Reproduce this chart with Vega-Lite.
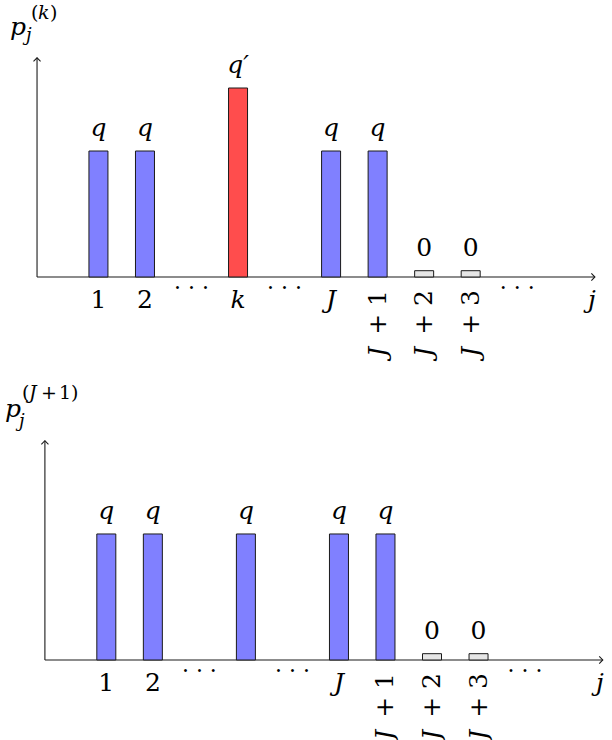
{
  "$schema": "https://vega.github.io/schema/vega-lite/v6.json",
  "padding": 0,
  "spacing": 0,
  "bounds": "flush",
  "config": {
    "view": {"stroke": null},
    "text": {"font": "DejaVu Serif", "fontSize": 25, "color": "#000000"}
  },
  "datasets": {
    "top": [
      {"j": 1, "p": 2, "kind": "q", "lab": "q", "tick": "1"},
      {"j": 2, "p": 2, "kind": "q", "lab": "q", "tick": "2"},
      {"j": 3, "gap": "· · ·"},
      {"j": 4, "p": 3, "kind": "qp", "lab": "q′", "tickVar": "k"},
      {"j": 5, "gap": "· · ·"},
      {"j": 6, "p": 2, "kind": "q", "lab": "q", "tickVar": "J"},
      {"j": 7, "p": 2, "kind": "q", "lab": "q", "rot": " + 1"},
      {"j": 8, "p": 0.1, "kind": "zero", "num": "0", "rot": " + 2"},
      {"j": 9, "p": 0.1, "kind": "zero", "num": "0", "rot": " + 3"},
      {"j": 10, "gap": "· · ·"}
    ],
    "bottom": [
      {"j": 1, "p": 2, "kind": "q", "lab": "q", "tick": "1"},
      {"j": 2, "p": 2, "kind": "q", "lab": "q", "tick": "2"},
      {"j": 3, "gap": "· · ·"},
      {"j": 4, "p": 2, "kind": "q", "lab": "q"},
      {"j": 5, "gap": "· · ·"},
      {"j": 6, "p": 2, "kind": "q", "lab": "q", "tickVar": "J"},
      {"j": 7, "p": 2, "kind": "q", "lab": "q", "rot": " + 1"},
      {"j": 8, "p": 0.1, "kind": "zero", "num": "0", "rot": " + 2"},
      {"j": 9, "p": 0.1, "kind": "zero", "num": "0", "rot": " + 3"},
      {"j": 10, "gap": "· · ·"}
    ],
    "axes": [
      {"j": -0.32, "p": 0, "j2": 11.67, "p2": 0},
      {"j": -0.32, "p": 0, "j2": -0.32, "p2": 3.48}
    ],
    "heads": [
      {"j": 11.67, "p": 0, "dir": "right"},
      {"j": -0.32, "p": 3.48, "dir": "up"}
    ]
  },
  "resolve": {"scale": {"x": "independent", "y": "independent"}},
  "vconcat": [
    {
      "width": 612,
      "height": 380,
      "encoding": {
        "x": {"field": "j", "type": "quantitative", "scale": {"domain": [-1.0085, 11.93], "nice": false, "zero": false}, "axis": null}
      },
      "layer": [
        {"data": {"name": "axes"}, "mark": {"type": "rule", "stroke": "#1a1a1a", "strokeWidth": 1.1},
          "encoding": {"y": {"field": "p", "type": "quantitative", "scale": {"domain": [-1.635, 4.397], "nice": false, "zero": false}, "axis": null}, "x2": {"field": "j2"}, "y2": {"field": "p2"}}},
        {"data": {"name": "heads"}, "mark": {"type": "point", "filled": false, "stroke": "#1a1a1a", "strokeWidth": 1.1, "opacity": 1, "size": 50},
          "encoding": {"y": {"field": "p", "type": "quantitative", "scale": {"domain": [-1.635, 4.397], "nice": false, "zero": false}, "axis": null}, "shape": {"field": "dir", "type": "nominal", "scale": {"domain": ["right", "up"], "range": ["M-1,-1Q-0.3,-0.3 0,0Q-0.3,0.3 -1,1", "M-1,1Q-0.3,0.3 0,0Q0.3,0.3 1,1"]}, "legend": null}}},
        {"data": {"name": "top"}, "transform": [{"filter": "isValid(datum.p)"}], "mark": {"type": "bar", "width": 19, "stroke": "#1a1a1a", "strokeWidth": 1},
          "encoding": {"y": {"field": "p", "type": "quantitative", "scale": {"domain": [-1.635, 4.397], "nice": false, "zero": false}, "axis": null}, "y2": {"datum": 0}, "fill": {"field": "kind", "type": "nominal", "scale": {"domain": ["q", "qp", "zero"], "range": ["#8080ff", "#ff4d4d", "#e6e6e6"]}, "legend": null}}},
        {"data": {"name": "top"}, "transform": [{"filter": "isValid(datum.lab)"}], "mark": {"type": "text", "fontStyle": "italic", "baseline": "alphabetic", "dy": -15},
          "encoding": {"y": {"field": "p", "type": "quantitative", "scale": {"domain": [-1.635, 4.397], "nice": false, "zero": false}, "axis": null}, "text": {"field": "lab"}}},
        {"data": {"name": "top"}, "transform": [{"filter": "isValid(datum.num)"}], "mark": {"type": "text", "baseline": "alphabetic", "dy": -15},
          "encoding": {"y": {"field": "p", "type": "quantitative", "scale": {"domain": [-1.635, 4.397], "nice": false, "zero": false}, "axis": null}, "text": {"field": "num"}}},
        {"data": {"name": "top"}, "transform": [{"filter": "isValid(datum.tick)"}], "mark": {"type": "text", "baseline": "alphabetic", "dy": 31},
          "encoding": {"y": {"datum": 0, "type": "quantitative", "scale": {"domain": [-1.635, 4.397], "nice": false, "zero": false}, "axis": null}, "text": {"field": "tick"}}},
        {"data": {"name": "top"}, "transform": [{"filter": "isValid(datum.tickVar)"}], "mark": {"type": "text", "fontStyle": "italic", "baseline": "alphabetic", "dy": 31},
          "encoding": {"y": {"datum": 0, "type": "quantitative", "scale": {"domain": [-1.635, 4.397], "nice": false, "zero": false}, "axis": null}, "text": {"field": "tickVar"}}},
        {"data": {"name": "top"}, "transform": [{"filter": "isValid(datum.gap)"}], "mark": {"type": "text", "fontSize": 22, "baseline": "alphabetic", "dy": 18},
          "encoding": {"y": {"datum": 0, "type": "quantitative", "scale": {"domain": [-1.635, 4.397], "nice": false, "zero": false}, "axis": null}, "text": {"field": "gap"}}},
        {"data": {"name": "top"}, "transform": [{"filter": "isValid(datum.rot)"}], "mark": {"type": "text", "angle": 270, "align": "right", "baseline": "middle", "dx": -13},
          "encoding": {"y": {"datum": 0, "type": "quantitative", "scale": {"domain": [-1.635, 4.397], "nice": false, "zero": false}, "axis": null}, "text": {"field": "rot"}}},
        {"data": {"name": "top"}, "transform": [{"filter": "isValid(datum.rot)"}], "mark": {"type": "text", "text": "J", "fontStyle": "italic", "angle": 270, "align": "right", "baseline": "middle", "dx": -70},
          "encoding": {"y": {"datum": 0, "type": "quantitative", "scale": {"domain": [-1.635, 4.397], "nice": false, "zero": false}, "axis": null}}},
        {"data": {"name": "heads"}, "transform": [{"filter": "datum.dir == 'right'"}], "mark": {"type": "text", "text": "j", "fontStyle": "italic", "baseline": "alphabetic", "dx": -3, "dy": 31},
          "encoding": {"y": {"field": "p", "type": "quantitative", "scale": {"domain": [-1.635, 4.397], "nice": false, "zero": false}, "axis": null}}},
        {"data": {"name": "heads"}, "transform": [{"filter": "datum.dir == 'up'"}], "mark": {"type": "text", "text": "p", "fontStyle": "italic", "align": "left", "baseline": "alphabetic", "dx": -27, "dy": -23},
          "encoding": {"y": {"field": "p", "type": "quantitative", "scale": {"domain": [-1.635, 4.397], "nice": false, "zero": false}, "axis": null}}},
        {"data": {"name": "heads"}, "transform": [{"filter": "datum.dir == 'up'"}], "mark": {"type": "text", "text": "j", "fontSize": 18, "fontStyle": "italic", "align": "left", "baseline": "alphabetic", "dx": -11, "dy": -17},
          "encoding": {"y": {"field": "p", "type": "quantitative", "scale": {"domain": [-1.635, 4.397], "nice": false, "zero": false}, "axis": null}}},
        {"data": {"name": "heads"}, "transform": [{"filter": "datum.dir == 'up'"}], "mark": {"type": "text", "text": "(", "fontSize": 19, "align": "left", "baseline": "alphabetic", "dx": -6, "dy": -39},
          "encoding": {"y": {"field": "p", "type": "quantitative", "scale": {"domain": [-1.635, 4.397], "nice": false, "zero": false}, "axis": null}}},
        {"data": {"name": "heads"}, "transform": [{"filter": "datum.dir == 'up'"}], "mark": {"type": "text", "text": "k", "fontSize": 19, "fontStyle": "italic", "align": "left", "baseline": "alphabetic", "dx": 1, "dy": -39},
          "encoding": {"y": {"field": "p", "type": "quantitative", "scale": {"domain": [-1.635, 4.397], "nice": false, "zero": false}, "axis": null}}},
        {"data": {"name": "heads"}, "transform": [{"filter": "datum.dir == 'up'"}], "mark": {"type": "text", "text": ")", "fontSize": 19, "align": "left", "baseline": "alphabetic", "dx": 13, "dy": -39},
          "encoding": {"y": {"field": "p", "type": "quantitative", "scale": {"domain": [-1.635, 4.397], "nice": false, "zero": false}, "axis": null}}}
      ]
    },
    {
      "width": 612,
      "height": 360,
      "encoding": {
        "x": {"field": "j", "type": "quantitative", "scale": {"domain": [-1.1776, 11.761], "nice": false, "zero": false}, "axis": null}
      },
      "layer": [
        {"data": {"name": "axes"}, "mark": {"type": "rule", "stroke": "#1a1a1a", "strokeWidth": 1.1},
          "encoding": {"y": {"field": "p", "type": "quantitative", "scale": {"domain": [-1.27, 4.444], "nice": false, "zero": false}, "axis": null}, "x2": {"field": "j2"}, "y2": {"field": "p2"}}},
        {"data": {"name": "heads"}, "mark": {"type": "point", "filled": false, "stroke": "#1a1a1a", "strokeWidth": 1.1, "opacity": 1, "size": 50},
          "encoding": {"y": {"field": "p", "type": "quantitative", "scale": {"domain": [-1.27, 4.444], "nice": false, "zero": false}, "axis": null}, "shape": {"field": "dir", "type": "nominal", "scale": {"domain": ["right", "up"], "range": ["M-1,-1Q-0.3,-0.3 0,0Q-0.3,0.3 -1,1", "M-1,1Q-0.3,0.3 0,0Q0.3,0.3 1,1"]}, "legend": null}}},
        {"data": {"name": "bottom"}, "transform": [{"filter": "isValid(datum.p)"}], "mark": {"type": "bar", "width": 19, "stroke": "#1a1a1a", "strokeWidth": 1},
          "encoding": {"y": {"field": "p", "type": "quantitative", "scale": {"domain": [-1.27, 4.444], "nice": false, "zero": false}, "axis": null}, "y2": {"datum": 0}, "fill": {"field": "kind", "type": "nominal", "scale": {"domain": ["q", "qp", "zero"], "range": ["#8080ff", "#ff4d4d", "#e6e6e6"]}, "legend": null}}},
        {"data": {"name": "bottom"}, "transform": [{"filter": "isValid(datum.lab)"}], "mark": {"type": "text", "fontStyle": "italic", "baseline": "alphabetic", "dy": -15},
          "encoding": {"y": {"field": "p", "type": "quantitative", "scale": {"domain": [-1.27, 4.444], "nice": false, "zero": false}, "axis": null}, "text": {"field": "lab"}}},
        {"data": {"name": "bottom"}, "transform": [{"filter": "isValid(datum.num)"}], "mark": {"type": "text", "baseline": "alphabetic", "dy": -15},
          "encoding": {"y": {"field": "p", "type": "quantitative", "scale": {"domain": [-1.27, 4.444], "nice": false, "zero": false}, "axis": null}, "text": {"field": "num"}}},
        {"data": {"name": "bottom"}, "transform": [{"filter": "isValid(datum.tick)"}], "mark": {"type": "text", "baseline": "alphabetic", "dy": 31},
          "encoding": {"y": {"datum": 0, "type": "quantitative", "scale": {"domain": [-1.27, 4.444], "nice": false, "zero": false}, "axis": null}, "text": {"field": "tick"}}},
        {"data": {"name": "bottom"}, "transform": [{"filter": "isValid(datum.tickVar)"}], "mark": {"type": "text", "fontStyle": "italic", "baseline": "alphabetic", "dy": 31},
          "encoding": {"y": {"datum": 0, "type": "quantitative", "scale": {"domain": [-1.27, 4.444], "nice": false, "zero": false}, "axis": null}, "text": {"field": "tickVar"}}},
        {"data": {"name": "bottom"}, "transform": [{"filter": "isValid(datum.gap)"}], "mark": {"type": "text", "fontSize": 22, "baseline": "alphabetic", "dy": 18},
          "encoding": {"y": {"datum": 0, "type": "quantitative", "scale": {"domain": [-1.27, 4.444], "nice": false, "zero": false}, "axis": null}, "text": {"field": "gap"}}},
        {"data": {"name": "bottom"}, "transform": [{"filter": "isValid(datum.rot)"}], "mark": {"type": "text", "angle": 270, "align": "right", "baseline": "middle", "dx": -13},
          "encoding": {"y": {"datum": 0, "type": "quantitative", "scale": {"domain": [-1.27, 4.444], "nice": false, "zero": false}, "axis": null}, "text": {"field": "rot"}}},
        {"data": {"name": "bottom"}, "transform": [{"filter": "isValid(datum.rot)"}], "mark": {"type": "text", "text": "J", "fontStyle": "italic", "angle": 270, "align": "right", "baseline": "middle", "dx": -70},
          "encoding": {"y": {"datum": 0, "type": "quantitative", "scale": {"domain": [-1.27, 4.444], "nice": false, "zero": false}, "axis": null}}},
        {"data": {"name": "heads"}, "transform": [{"filter": "datum.dir == 'right'"}], "mark": {"type": "text", "text": "j", "fontStyle": "italic", "baseline": "alphabetic", "dx": -3, "dy": 31},
          "encoding": {"y": {"field": "p", "type": "quantitative", "scale": {"domain": [-1.27, 4.444], "nice": false, "zero": false}, "axis": null}}},
        {"data": {"name": "heads"}, "transform": [{"filter": "datum.dir == 'up'"}], "mark": {"type": "text", "text": "p", "fontStyle": "italic", "align": "left", "baseline": "alphabetic", "dx": -40, "dy": -24},
          "encoding": {"y": {"field": "p", "type": "quantitative", "scale": {"domain": [-1.27, 4.444], "nice": false, "zero": false}, "axis": null}}},
        {"data": {"name": "heads"}, "transform": [{"filter": "datum.dir == 'up'"}], "mark": {"type": "text", "text": "j", "fontSize": 18, "fontStyle": "italic", "align": "left", "baseline": "alphabetic", "dx": -26, "dy": -14},
          "encoding": {"y": {"field": "p", "type": "quantitative", "scale": {"domain": [-1.27, 4.444], "nice": false, "zero": false}, "axis": null}}},
        {"data": {"name": "heads"}, "transform": [{"filter": "datum.dir == 'up'"}], "mark": {"type": "text", "text": "(", "fontSize": 19, "align": "left", "baseline": "alphabetic", "dx": -23, "dy": -42},
          "encoding": {"y": {"field": "p", "type": "quantitative", "scale": {"domain": [-1.27, 4.444], "nice": false, "zero": false}, "axis": null}}},
        {"data": {"name": "heads"}, "transform": [{"filter": "datum.dir == 'up'"}], "mark": {"type": "text", "text": "J", "fontSize": 19, "fontStyle": "italic", "align": "left", "baseline": "alphabetic", "dx": -16, "dy": -42},
          "encoding": {"y": {"field": "p", "type": "quantitative", "scale": {"domain": [-1.27, 4.444], "nice": false, "zero": false}, "axis": null}}},
        {"data": {"name": "heads"}, "transform": [{"filter": "datum.dir == 'up'"}], "mark": {"type": "text", "text": "+", "fontSize": 19, "align": "left", "baseline": "alphabetic", "dx": -4, "dy": -42},
          "encoding": {"y": {"field": "p", "type": "quantitative", "scale": {"domain": [-1.27, 4.444], "nice": false, "zero": false}, "axis": null}}},
        {"data": {"name": "heads"}, "transform": [{"filter": "datum.dir == 'up'"}], "mark": {"type": "text", "text": "1)", "fontSize": 19, "align": "left", "baseline": "alphabetic", "dx": 14, "dy": -42},
          "encoding": {"y": {"field": "p", "type": "quantitative", "scale": {"domain": [-1.27, 4.444], "nice": false, "zero": false}, "axis": null}}}
      ]
    }
  ]
}
